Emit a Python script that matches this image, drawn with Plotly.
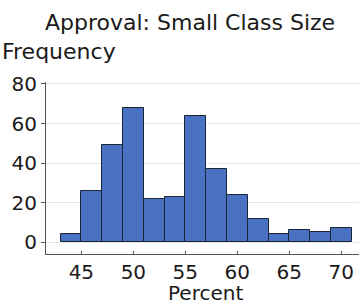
import plotly.graph_objects as go

bin_left = [43, 45, 47, 49, 51, 53, 55, 57, 59, 61, 63, 65, 67, 69]
bin_width = 2
counts = [4, 26, 49, 68, 22, 23, 64, 37, 24, 12, 4, 6, 5, 7]
x_ticks = [45, 50, 55, 60, 65, 70]
y_ticks = [0, 20, 40, 60, 80]

FONT = "DejaVu Sans"
fig = go.Figure(go.Bar(
    x=bin_left, y=counts, width=bin_width, offset=0,
    marker=dict(color="#4a72c2", line=dict(color="#1c2438", width=1)),
))
fig.update_layout(
    width=359, height=305,
    margin=dict(l=46, r=0, t=82, b=51, autoexpand=False),
    paper_bgcolor="white", plot_bgcolor="white",
    font=dict(family=FONT, size=20, color="#1a1a1a"),
    showlegend=False,
    bargap=0,
)
fig.update_xaxes(
    range=[41.6, 71.7], tickvals=x_ticks, ticks="inside", ticklen=3,
    tickcolor="#555", showline=True, linecolor="#555", linewidth=1,
    showgrid=False, zeroline=False, tickfont=dict(size=20), automargin=False,
)
fig.update_yaxes(
    range=[-5.9, 81], tickvals=y_ticks, ticks="outside", ticklen=4,
    tickcolor="#555", showline=True, linecolor="#555", linewidth=1,
    showgrid=True, gridcolor="#e6e6e6", zeroline=False, tickfont=dict(size=20),
    automargin=False,
)
fig.add_annotation(text="Approval: Small Class Size", xref="paper", yref="paper",
                   x=(189.5 - 46) / 313, y=1, yshift=82 - 22, showarrow=False,
                   xanchor="center", yanchor="middle", font=dict(size=22))
fig.add_annotation(text="Frequency", xref="paper", yref="paper",
                   x=-46 / 313, y=1, yshift=82 - 51, showarrow=False,
                   xanchor="left", yanchor="middle", font=dict(size=22))
fig.add_annotation(text="Percent", xref="paper", yref="paper",
                   x=(205 - 46) / 313, y=0, yshift=-(293 - 254), showarrow=False,
                   xanchor="center", yanchor="middle", font=dict(size=20))
fig.write_html("out.html", config={"displayModeBar": False},
               post_script="document.body.style.margin='0';")
